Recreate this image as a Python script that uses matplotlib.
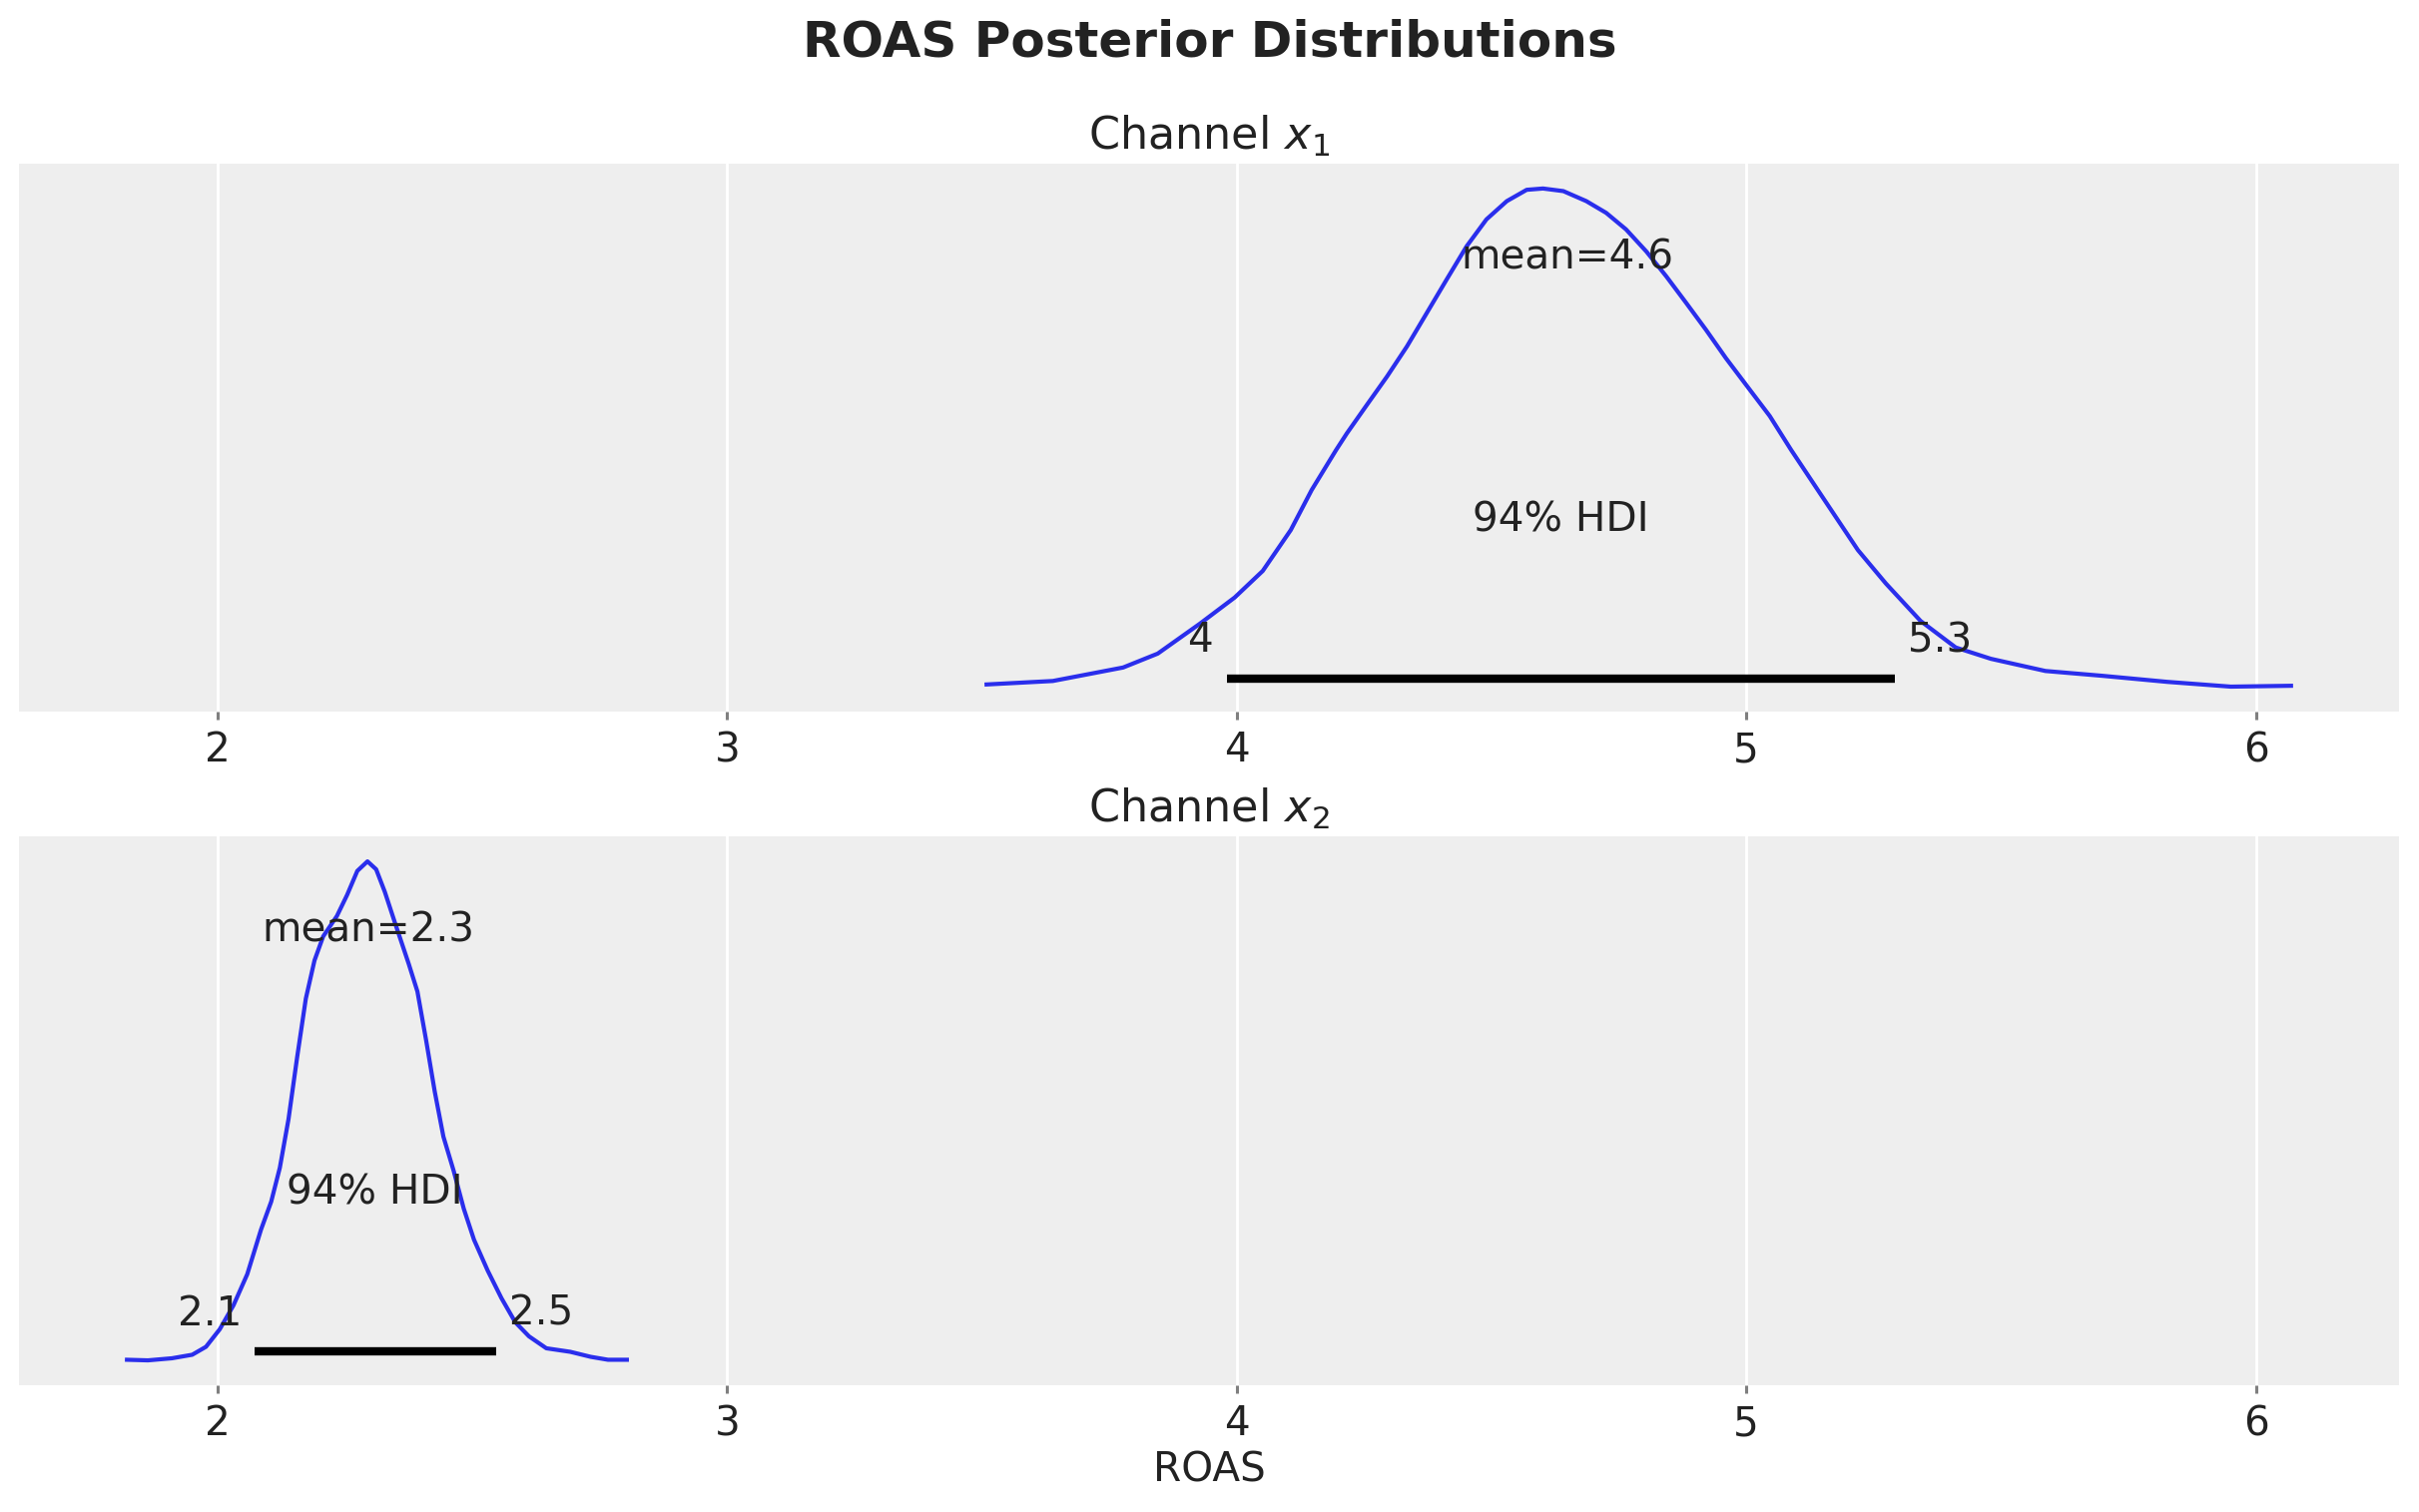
import matplotlib
matplotlib.use("Agg")
import matplotlib.pyplot as plt

# posterior density curves (ROAS value, density)
x1_roas = [3.509, 3.639, 3.777, 3.845, 3.928, 3.996, 4.051, 4.106, 4.147, 4.195,
           4.216, 4.255, 4.295, 4.334, 4.373, 4.412, 4.451, 4.490, 4.530, 4.569,
           4.601, 4.641, 4.686, 4.725, 4.764, 4.804, 4.843, 4.882, 4.921, 4.960,
           5.000, 5.046, 5.088, 5.150, 5.219, 5.274, 5.342, 5.411, 5.480, 5.587,
           5.698, 5.826, 5.951, 6.069]
x1_density = [0.010, 0.018, 0.049, 0.081, 0.150, 0.210, 0.271, 0.365, 0.457, 0.549,
              0.587, 0.652, 0.718, 0.787, 0.864, 0.941, 1.017, 1.079, 1.121, 1.147,
              1.150, 1.144, 1.121, 1.094, 1.056, 1.005, 0.948, 0.887, 0.825, 0.760,
              0.698, 0.627, 0.549, 0.440, 0.319, 0.242, 0.156, 0.095, 0.069, 0.041,
              0.030, 0.016, 0.005, 0.007]

x2_roas = [1.822, 1.863, 1.910, 1.950, 1.977, 2.004, 2.031, 2.058, 2.085, 2.105,
           2.122, 2.139, 2.156, 2.173, 2.190, 2.207, 2.234, 2.254, 2.274, 2.294,
           2.311, 2.328, 2.348, 2.375, 2.392, 2.409, 2.426, 2.443, 2.463, 2.483,
           2.503, 2.530, 2.557, 2.584, 2.611, 2.645, 2.692, 2.732, 2.766, 2.803]
x2_density = [0.014, 0.010, 0.024, 0.048, 0.102, 0.221, 0.384, 0.595, 0.898, 1.088,
              1.319, 1.649, 2.071, 2.468, 2.727, 2.890, 3.029, 3.172, 3.335, 3.400,
              3.346, 3.193, 2.982, 2.703, 2.516, 2.186, 1.836, 1.530, 1.299, 1.040,
              0.830, 0.619, 0.432, 0.269, 0.173, 0.092, 0.068, 0.034, 0.014, 0.014]

channels = ["Channel $x_1$", "Channel $x_2$"]
means = [4.649, 2.295]
hdi_low = [3.981, 2.072]
hdi_high = [5.291, 2.546]
hdi_prob = 0.94

TEXT = "#222222"
plt.rcParams["font.family"] = ["DejaVu Sans"]
plt.rcParams["text.color"] = TEXT
plt.rcParams["xtick.color"] = "#7f7f7f"
plt.rcParams["xtick.labelcolor"] = TEXT
plt.rcParams["axes.labelcolor"] = TEXT

fig = plt.figure(figsize=(2423 / 200, 1515 / 200), dpi=200)
ax_top = fig.add_axes([0.00784, 0.5294, 0.9839, 0.3624])
ax_bot = fig.add_axes([0.00784, 0.0838, 0.9839, 0.3630], sharex=ax_top)

curves = [(x1_roas, x1_density), (x2_roas, x2_density)]
label_size = 14.6

for i, ax in enumerate([ax_top, ax_bot]):
    xs, ys = curves[i]
    ax.set_facecolor("#eeeeee")
    ax.plot(xs, ys, color="#2a2eec", lw=1.5)
    for sp in ax.spines.values():
        sp.set_visible(False)
    ax.set_yticks([])
    ax.grid(True, axis="x", color="white", lw=1.0)
    ax.set_axisbelow(True)
    ax.tick_params(axis="x", length=3.0, width=1.1, labelsize=label_size, pad=4)

for i, ax in enumerate([ax_top, ax_bot]):
    ax.set_xlim(1.610, 6.281)
    ax.relim()
    ax.autoscale_view(scalex=False)
    plot_height = ax.get_ylim()[1]
    lo, hi = hdi_low[i], hdi_high[i]
    ax.plot([lo, hi], [plot_height * 0.02] * 2, lw=3.0, color="k", solid_capstyle="butt")
    ax.text(lo, plot_height * 0.07, f"{lo:.2g} ", size=label_size, ha="right")
    ax.text(hi, plot_height * 0.07, f" {hi:.2g}", size=label_size, ha="left")
    ax.text((lo + hi) / 2, plot_height * 0.3, f"{int(hdi_prob * 100)}% HDI",
            size=label_size, ha="center")
    ax.text(means[i], plot_height * 0.8, f"mean={means[i]:.2g}", size=label_size, ha="center")
    ax.set_title(channels[i], fontsize=16, pad=5)

ax_top.set_xticks([2, 3, 4, 5, 6])
ax_bot.set_xlabel("ROAS", fontsize=label_size, labelpad=2)
fig.suptitle("ROAS Posterior Distributions", fontsize=18, fontweight="bold",
             y=0.972, va="center")

fig.savefig("out.png", dpi=200)
